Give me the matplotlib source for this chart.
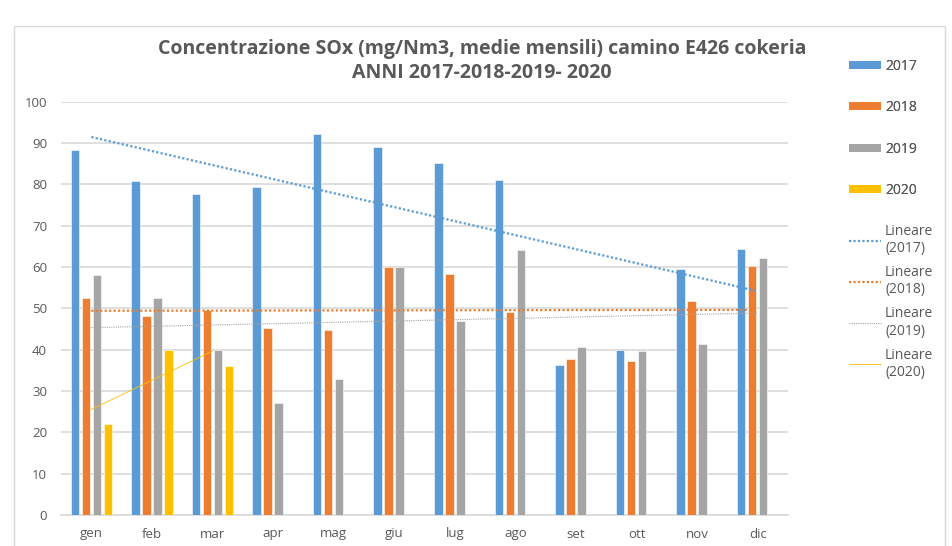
import numpy as np
import matplotlib
matplotlib.use("Agg")
import matplotlib.pyplot as plt
from matplotlib.lines import Line2D
from matplotlib.patches import Patch, Rectangle

plt.rcParams['font.family'] = ['Open Sans', 'DejaVu Sans']

months = ["gen", "feb", "mar", "apr", "mag", "giu", "lug", "ago", "set", "ott", "nov", "dic"]
v2017 = [88.2, 80.7, 77.7, 79.3, 92.3, 89.0, 85.2, 81.1, 36.3, 40.0, 59.5, 64.3]
v2018 = [52.4, 48.2, 49.5, 45.2, 44.8, 60.0, 58.3, 49.0, 37.8, 37.2, 51.8, 60.2]
v2019 = [58.0, 52.5, 40.0, 27.1, 32.8, 60.0, 46.9, 64.0, 40.6, 39.8, 41.4, 62.1]
v2020 = [21.9, 39.9, 36.0]
years = ["2017", "2018", "2019", "2020"]
colors = ["#5B9BD5", "#ED7D31", "#A5A5A5", "#FFC000"]
title = "Concentrazione SOx (mg/Nm3, medie mensili) camino E426 cokeria\nANNI 2017-2018-2019- 2020"

series = [v2017, v2018, v2019, v2020]
txt = "#595959"
grid = "#D9D9D9"

fig = plt.figure(figsize=(9.53, 5.46), dpi=100)
fig.patches.append(Rectangle((14 / 953, -0.1), (945 - 14) / 953, 1.1 - 26 / 546,
                             transform=fig.transFigure, facecolor="white",
                             edgecolor=grid, lw=1, zorder=-10))
ax = fig.add_axes([61 / 953, 1 - 515 / 546, (788 - 61) / 953, (515 - 101.7) / 546])
ax.set_facecolor("none")

step = 0.1815
width = 0.14
for i, (vals, c) in enumerate(zip(series, colors)):
    x = np.arange(len(vals)) + (i - 1.5) * step
    ax.bar(x, vals, width=width, color=c, edgecolor="white", linewidth=0.4, zorder=3)

trend_styles = [dict(ls=(0, (1, 1)), lw=1.6), dict(ls=(0, (1, 1)), lw=1.6),
                dict(ls=(0, (1, 1)), lw=0.8), dict(ls="-", lw=0.6)]
for vals, c, st in zip(series, colors, trend_styles):
    x = np.arange(len(vals))
    p = np.polyfit(x, vals, 1)
    ax.plot(x, np.polyval(p, x), color=c, zorder=4, **st)

ax.set_xlim(-0.5, 11.5)
ax.set_ylim(0, 100)
ax.set_yticks(np.arange(0, 101, 10))
ax.set_xticks(np.arange(12))
ax.set_xticklabels(months)
ax.yaxis.grid(True, color=grid, lw=1.2, zorder=0)
for s in ["top", "right", "left"]:
    ax.spines[s].set_visible(False)
ax.spines["bottom"].set_color(grid)
ax.spines["bottom"].set_linewidth(1.2)
ax.tick_params(axis="both", length=0, colors=txt, labelsize=9.5)
ax.tick_params(axis="y", pad=10)
ax.tick_params(axis="x", pad=9)

fig.text(482 / 953, 1 - 61 / 546, title, ha="center", va="center", fontsize=14,
         fontweight="bold", color=txt, linespacing=1.3)

h1 = [Patch(facecolor=c, edgecolor="none") for c in colors]
leg1 = fig.legend(h1, years, loc="upper left", bbox_to_anchor=(842 / 953, 1 - 52 / 546),
                  frameon=False, fontsize=10, labelspacing=1.9, handlelength=2.3,
                  handleheight=0.5, handletextpad=0.3, labelcolor=txt, borderpad=0)
h2 = [Line2D([], [], color=c, **st) for c, st in zip(colors, trend_styles)]
lab2 = ["Lineare\n(%s)" % y for y in years]
leg2 = fig.legend(h2, lab2, loc="upper left", bbox_to_anchor=(842 / 953, 1 - 217 / 546),
                  frameon=False, fontsize=10, labelspacing=0.65, handlelength=2.3,
                  handletextpad=0.3, labelcolor=txt, borderpad=0)
fig.add_artist(leg1)

fig.savefig("out.png", dpi=100)
